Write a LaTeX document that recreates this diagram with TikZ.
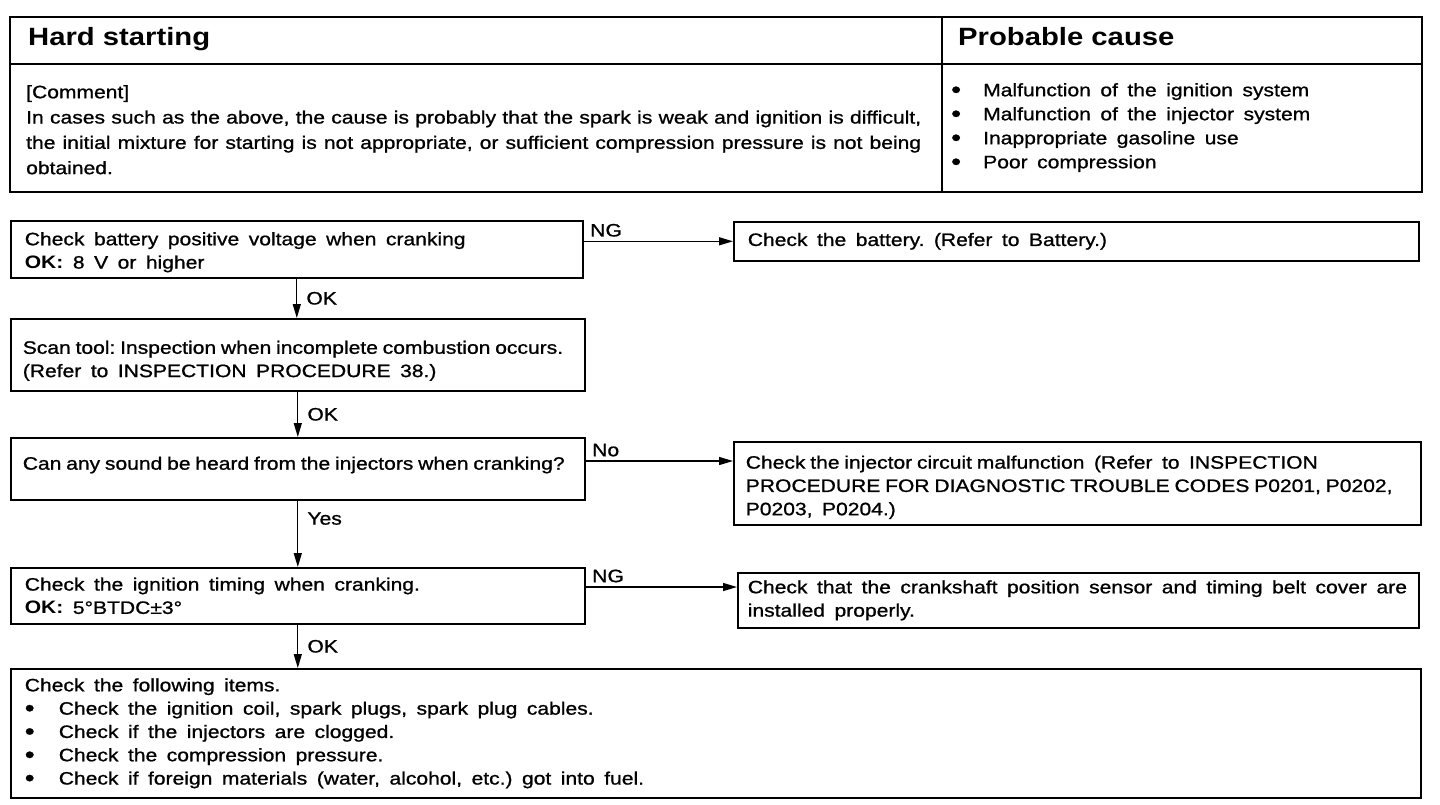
\documentclass[tikz,border=0pt]{standalone}
\usepackage{fontspec}
\setmainfont{Liberation Sans}[FakeStretch=1.17, UprightFeatures={FakeBold=1.0}]
\usepackage{tikz}
\usetikzlibrary{arrows.meta,positioning}
\newcommand{\flowfont}{\fontsize{18}{23.3}\selectfont}
\newcommand{\headfont}{\fontsize{25}{30}\selectfont\bfseries}
\newcommand{\widesp}{\frenchspacing\spaceskip=9.5pt plus 1pt minus 1.5pt\relax}
\newcommand{\tightsp}{\spaceskip=4.8pt plus 1pt minus 0.5pt\relax}
\newcommand{\textsp}{\frenchspacing\spaceskip=5pt plus 4pt minus 1pt\relax}
\newcommand{\bul}[1]{\makebox[#1][l]{\raisebox{-1.5pt}{\fontsize{24}{24}\selectfont\textbullet}}}

\begin{document}
\begin{tikzpicture}[x=1pt, y=-1pt,
    frame/.style={draw, line width=2.2pt},
    rule/.style={draw, line width=1.4pt},
    stepbox/.style={
        draw,
        line width=1.6pt,
        anchor=north west,
        align=left,
        inner xsep=14pt,
        inner ysep=0pt,
        font=\flowfont,
        execute at begin node=\widesp
    },
    flow/.style={line width=1.3pt, -{Triangle[length=14pt,width=8pt]}},
    tag/.style={font=\flowfont, inner sep=3pt}
]
    \useasboundingbox (0,0) rectangle (1440,804);

    % header table
    \draw[frame] (10,17) rectangle (1422,192);
    \draw[rule] (10,64) -- (1422,64);
    \draw[rule] (942,17) -- (942,192);
    \node[anchor=base west, inner sep=0pt, font=\headfont] (title) at (28,45) {Hard starting};
    \node[anchor=base west, inner sep=0pt, font=\headfont] (cause) at (958,45) {Probable cause};
    \node[anchor=north west, inner sep=0pt, text width=895pt, align=justify,
        font=\fontsize{18}{25.3}\selectfont, execute at begin node=\textsp] (comment) at (26,85) {
        [Comment]\\
        In cases such as the above, the cause is probably that the spark is weak and ignition is difficult,\linebreak
        the initial mixture for starting is not appropriate, or sufficient compression pressure is not being\linebreak
        obtained.
    };
    \node[anchor=north west, inner sep=0pt, align=left,
        font=\fontsize{18}{24}\selectfont, execute at begin node=\widesp] (causes) at (951,83) {
        \bul{32pt}Malfunction of the ignition system\\
        \bul{32pt}Malfunction of the injector system\\
        \bul{32pt}Inappropriate gasoline use\\
        \bul{32pt}Poor compression
    };

    % flow
    \node[stepbox, text width=544pt, minimum height=57pt] (chkbatt) at (10,220) {
        \rule{0pt}{19pt}Check battery positive voltage when cranking\\
        \textbf{OK:} 8 V or higher
    };
    \node[stepbox, text width=657pt, minimum height=39pt] (battery) at (733,221) {
        Check the battery. (Refer to Battery.)
    };
    \node[stepbox, inner xsep=12pt, text width=550pt, minimum height=72pt] (scantool) at (10,318) {
        \rule{0pt}{25pt}{\tightsp Scan tool: Inspection when incomplete combustion occurs.}\\
        (Refer to INSPECTION PROCEDURE 38.)
    };
    \node[stepbox, inner xsep=12pt, text width=550pt, minimum height=62pt] (injsound) at (10,437) {
        {\tightsp Can any sound be heard from the injectors when cranking?}\\[-12pt]
        \mbox{}
    };
    \node[stepbox, inner xsep=12pt, text width=663pt, minimum height=83pt] (injcirc) at (733,441) {
        \rule{0pt}{21pt}{\tightsp Check the injector circuit malfunction} (Refer to INSPECTION\\
        {\tightsp PROCEDURE FOR DIAGNOSTIC TROUBLE CODES P0201, P0202,}\\
        P0203, P0204.)
    };
    \node[stepbox, text width=546pt, minimum height=56pt] (igntiming) at (10,567) {
        Check the ignition timing when cranking.\\
        \textbf{OK:} 5°BTDC±3°
    };
    \node[stepbox, inner xsep=10pt, text width=661pt, minimum height=55pt] (crank) at (737,572) {
        Check that the crankshaft position sensor and timing belt cover are\\
        installed properly.
    };
    \node[stepbox, text width=1382pt, minimum height=129pt] (items) at (10,668) {
        Check the following items.\\
        \bul{34pt}Check the ignition coil, spark plugs, spark plug cables.\\
        \bul{34pt}Check if the injectors are clogged.\\
        \bul{34pt}Check the compression pressure.\\
        \bul{34pt}Check if foreign materials (water, alcohol, etc.) got into fuel.
    };

    \coordinate (nojoint) at ([yshift=-24pt]injsound.north east);
    \coordinate (ngjoint) at ([yshift=-20pt]igntiming.north east);

    \draw[flow] (chkbatt.north east |- battery.west) -- node[tag, above right=1pt and 3pt, pos=0] {NG} (battery.west);
    \draw[flow] (chkbatt.south) -- node[tag, right=6pt] {OK} (chkbatt.south |- scantool.north);
    \draw[flow] (scantool.south) -- node[tag, right=6pt] {OK} (scantool.south |- injsound.north);
    \draw[flow] (nojoint) -- node[tag, above right=1pt and 3pt, pos=0] {No} (nojoint -| injcirc.west);
    \draw[flow] (injsound.south) -- node[tag, right=6pt, pos=0.27] {Yes} (injsound.south |- igntiming.north);
    \draw[flow] (ngjoint) -- node[tag, above right=1pt and 3pt, pos=0] {NG} (ngjoint -| crank.west);
    \draw[flow] (igntiming.south) -- node[tag, right=6pt] {OK} (igntiming.south |- items.north);
\end{tikzpicture}
\end{document}
